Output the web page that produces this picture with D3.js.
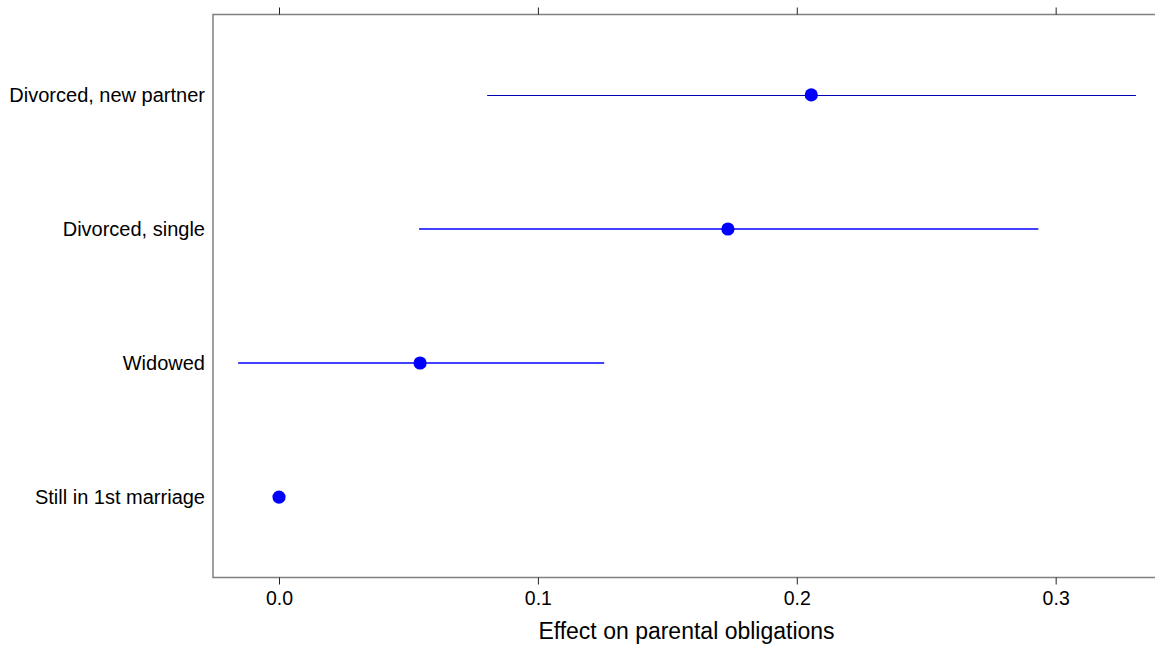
<!DOCTYPE html>
<html>
<head>
<meta charset="utf-8">
<script src="https://cdn.jsdelivr.net/npm/d3@7"></script>
<style>
  body { margin: 0; background: #fff; }
  text { font-family: "Liberation Sans", Arial, sans-serif; fill: #000; }
</style>
</head>
<body>
<div id="chart"></div>
<script>
var categories = ["Divorced, new partner", "Divorced, single", "Widowed", "Still in 1st marriage"];
var estimates = [0.2056, 0.1734, 0.0545, 0];
var lower = [0.0804, 0.0541, -0.0158, null];
var upper = [0.331, 0.2933, 0.1256, null];
var tickValues = [0.0, 0.1, 0.2, 0.3];
var xTitle = "Effect on parental obligations";

var width = 1155, height = 646;
var plotLeft = 213, plotTop = 14.5, plotRight = 1160, plotBottom = 577.5;

var svg = d3.select("#chart")
    .append("svg")
    .attr("width", width)
    .attr("height", height);

var x = d3.scaleLinear()
    .domain([-0.0255, 0.3403])
    .range([plotLeft, plotRight]);

var y = d3.scalePoint()
    .domain(categories)
    .range([plotTop, plotBottom])
    .padding(0.6);

var rows = categories.map(function(c, i) {
    return { name: c, est: estimates[i], lo: lower[i], hi: upper[i], i: i };
});

// confidence intervals (first one drawn crisp, others anti-aliased like the original)
svg.selectAll("line.ci")
    .data(rows.filter(function(d) { return d.lo !== null; }))
    .enter().append("line")
    .attr("class", "ci")
    .attr("x1", function(d) { return x(d.lo); })
    .attr("x2", function(d) { return x(d.hi); })
    .attr("y1", function(d) { return Math.round(y(d.name)) + (d.i === 0 ? 0.5 : 0); })
    .attr("y2", function(d) { return Math.round(y(d.name)) + (d.i === 0 ? 0.5 : 0); })
    .style("stroke", function(d) { return d.i === 0 ? "#0000b0" : "#0000ff"; })
    .style("stroke-width", function(d) { return d.i === 0 ? 1 : 1.3; });

svg.selectAll("circle.pt")
    .data(rows)
    .enter().append("circle")
    .attr("class", "pt")
    .attr("cx", function(d) { return x(d.est); })
    .attr("cy", function(d) { return y(d.name); })
    .attr("r", 6.6)
    .style("fill", "#0000ff");

// frame
svg.append("rect")
    .attr("x", plotLeft)
    .attr("y", plotTop)
    .attr("width", plotRight - plotLeft)
    .attr("height", plotBottom - plotTop)
    .style("fill", "none")
    .style("stroke", "#7f7f7f")
    .style("stroke-width", 1.5);

var xBottom = d3.axisBottom(x).tickValues(tickValues).tickFormat(d3.format(".1f")).tickSize(7).tickPadding(7);
var xTop = d3.axisTop(x).tickValues(tickValues).tickFormat("").tickSize(7);

var gb = svg.append("g").attr("transform", "translate(0," + plotBottom + ")").call(xBottom);
var gt = svg.append("g").attr("transform", "translate(0," + plotTop + ")").call(xTop);
[gb, gt].forEach(function(g) {
    g.select(".domain").remove();
    g.selectAll(".tick line").style("stroke", "#222").style("stroke-width", 1);
});
gb.selectAll(".tick text")
    .style("font-size", "19.5px")
    .style("font-family", "'Liberation Sans', Arial, sans-serif")
    .attr("fill", "#000");

// category labels
svg.selectAll("text.cat")
    .data(categories)
    .enter().append("text")
    .attr("class", "cat")
    .attr("x", plotLeft - 8)
    .attr("y", function(d) { return y(d); })
    .attr("dy", "0.36em")
    .attr("text-anchor", "end")
    .style("font-size", "20px")
    .text(function(d) { return d; });

svg.append("text")
    .attr("x", (plotLeft + plotRight) / 2)
    .attr("y", 639)
    .attr("text-anchor", "middle")
    .style("font-size", "23px")
    .text(xTitle);
</script>
</body>
</html>
